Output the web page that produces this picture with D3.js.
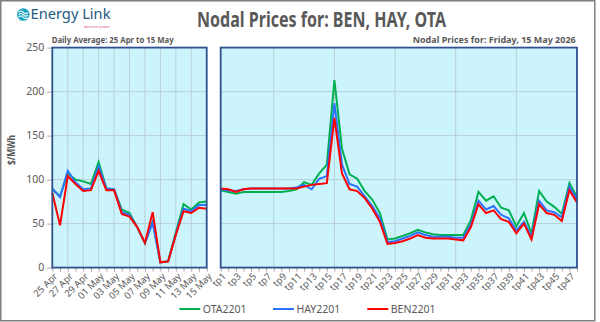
<!DOCTYPE html>
<html>
<head>
<meta charset="utf-8">
<script src="https://cdn.jsdelivr.net/npm/d3@7"></script>
<style>
  html, body { margin: 0; padding: 0; background: #fff; }
  svg { display: block; font-family: "Noto Sans", Roboto, sans-serif; }
</style>
</head>
<body>
<svg id="chart" width="600" height="322"></svg>
<script>
// daily averages, 25 Apr .. 15 May
const days = ['25 Apr', '26 Apr', '27 Apr', '28 Apr', '29 Apr', '30 Apr', '01 May',
  '02 May', '03 May', '04 May', '05 May', '06 May', '07 May', '08 May', '09 May',
  '10 May', '11 May', '12 May', '13 May', '14 May', '15 May']
const dailyOTA = [89, 81, 107, 100, 98, 95, 120, 90, 89, 66, 62, 46, 28, 52, 6, 7, 40, 72, 66, 74, 75]
const dailyHAY = [90, 80, 110, 97, 89, 90, 115, 90, 89, 63, 60, 46, 28, 51, 6, 7, 38, 67, 64, 71, 71]
const dailyBEN = [85, 48, 104, 95, 87, 88, 110, 88, 88, 61, 58, 46, 28, 63, 6, 7, 37, 64, 62, 68, 67]

// trading periods for 15 May
const periods = d3.range(1, 49).map(i => 'tp' + i)
const tpOTA = [88, 86, 84, 86, 86, 86, 86, 86, 86, 87, 89, 97, 94, 107, 117, 213, 135, 106, 101, 87,
  77, 62, 32, 33, 36, 39, 43, 40, 38, 37, 37, 37, 37, 54, 86, 76, 81, 68, 65, 47, 62, 39, 87, 75, 69, 61, 96, 80]
const tpHAY = [89, 88, 87, 89, 90, 90, 90, 90, 90, 90, 91, 94, 89, 101, 104, 187, 117, 95, 92, 81,
  70, 56, 29, 30, 33, 36, 40, 37, 35, 35, 35, 34, 34, 49, 76, 66, 70, 60, 56, 42, 52, 35, 76, 65, 63, 57, 92, 77]
const tpBEN = [90, 89, 86, 89, 90, 90, 90, 90, 90, 90, 90, 92, 94, 95, 96, 170, 107, 89, 87, 79,
  67, 52, 27, 28, 30, 33, 37, 34, 33, 33, 33, 32, 31, 46, 72, 62, 65, 55, 52, 39, 50, 32, 72, 62, 60, 53, 88, 74]

const seriesNames = ['OTA2201', 'HAY2201', 'BEN2201']
const seriesColors = ['#00b050', '#2a72ff', '#ff0000']
const yTicks = [0, 50, 100, 150, 200, 250]

const svg = d3.select('#chart')
const grey = '#595959'

// outer frame
svg.append('rect')
  .attr('x', 0.75).attr('y', 0.75).attr('width', 594).attr('height', 320)
  .attr('fill', '#fff').attr('stroke', '#7f7f7f').attr('stroke-width', 1.5)

// logo
const logo = svg.append('g')
logo.append('circle').attr('cx', 23.3).attr('cy', 14.5).attr('r', 6.3).attr('fill', '#1aa3c0')
;[-2.2, 0.3, 2.8].forEach(dy => {
  logo.append('path')
    .attr('d', `M18.6,${14.5 + dy} q2.3,-2.6 4.7,0 t4.7,0`)
    .attr('fill', 'none').attr('stroke', '#fff').attr('stroke-width', 1.1)
})
logo.append('text').attr('x', 30.5).attr('y', 19.3)
  .attr('font-size', 13.5).attr('fill', '#1d5a7e')
  .attr('textLength', 80).attr('lengthAdjust', 'spacingAndGlyphs')
  .text('Energy Link')
logo.append('text').attr('x', 84).attr('y', 27.6)
  .attr('font-size', 4).attr('fill', '#e0457b')
  .attr('textLength', 26).attr('lengthAdjust', 'spacingAndGlyphs')
  .text('decision power')

// titles
svg.append('text').attr('x', 197).attr('y', 26.8)
  .attr('font-size', 21).attr('font-weight', 'bold').attr('fill', grey)
  .attr('textLength', 249).attr('lengthAdjust', 'spacingAndGlyphs')
  .text('Nodal Prices for: BEN, HAY, OTA')
svg.append('text').attr('x', 51.7).attr('y', 43)
  .attr('font-size', 9).attr('font-weight', 'bold').attr('fill', grey)
  .attr('textLength', 122).attr('lengthAdjust', 'spacingAndGlyphs')
  .text('Daily Average: 25 Apr to 15 May')
svg.append('text').attr('x', 412.7).attr('y', 42.7)
  .attr('font-size', 9).attr('font-weight', 'bold').attr('fill', grey)
  .attr('textLength', 163).attr('lengthAdjust', 'spacingAndGlyphs')
  .text('Nodal Prices for: Friday, 15 May 2026')

const y = d3.scaleLinear().domain([0, 250]).range([267.6, 47.6])

function panel (cats, data, x0, x1, every, gridEvery, showY) {
  const x = d3.scalePoint().domain(cats).range([x0, x1])
  const g = svg.append('g')

  g.append('rect')
    .attr('x', x0).attr('y', y(250)).attr('width', x1 - x0).attr('height', y(0) - y(250))
    .attr('fill', '#ccf4fd')

  // horizontal grid
  g.append('g').selectAll('line')
    .data(yTicks.slice(1, -1))
    .join('line')
    .attr('x1', x0).attr('x2', x1)
    .attr('y1', d => y(d)).attr('y2', d => y(d))
    .attr('stroke', '#b9cfd6').attr('stroke-width', 1)

  // vertical grid
  g.append('g').selectAll('line')
    .data(cats.filter((d, i) => i > 0 && (i + gridEvery.offset) % gridEvery.step === 0))
    .join('line')
    .attr('x1', d => x(d)).attr('x2', d => x(d))
    .attr('y1', y(250)).attr('y2', y(0))
    .attr('stroke', '#b9cfd6').attr('stroke-width', 1)

  // x axis ticks and labels
  const xAxis = d3.axisBottom(x).tickSize(4).tickPadding(0)
    .tickFormat((d, i) => i % every === 0 ? d : '')
  const ax = g.append('g').attr('transform', `translate(0,${y(0)})`).call(xAxis)
  ax.select('.domain').remove()
  ax.selectAll('.tick line').attr('stroke', '#a6a6a6')
  ax.selectAll('.tick text')
    .attr('font-family', '"Noto Sans", Roboto, sans-serif')
    .attr('font-size', 9.5).attr('fill', grey)
    .attr('text-anchor', 'end')
    .attr('transform', 'translate(3,7) rotate(-45)')
    .attr('dy', '0.35em').attr('y', 0)

  if (showY) {
    const yAxis = d3.axisLeft(y).tickValues(yTicks).tickSize(5).tickPadding(3)
    const ay = g.append('g').attr('transform', `translate(${x0},0)`).call(yAxis)
    ay.select('.domain').remove()
    ay.selectAll('.tick line').attr('stroke', '#a6a6a6')
    ay.selectAll('.tick text')
      .attr('font-family', '"Noto Sans", Roboto, sans-serif')
      .attr('font-size', 10.5).attr('fill', grey)
  }

  const line = d3.line().x((d, i) => x(cats[i])).y(d => y(d))
  g.append('g').selectAll('path')
    .data(data)
    .join('path')
    .attr('d', d => line(d))
    .attr('fill', 'none')
    .attr('stroke', (d, i) => seriesColors[i])
    .attr('stroke-width', 2)
    .attr('stroke-linejoin', 'miter')

  g.append('rect')
    .attr('x', x0).attr('y', y(250)).attr('width', x1 - x0).attr('height', y(0) - y(250))
    .attr('fill', 'none').attr('stroke', '#2f528f').attr('stroke-width', 1.8)
}

panel(days, [dailyOTA, dailyHAY, dailyBEN], 52.3, 206.7, 2, { step: 2, offset: 0 }, true)
panel(periods, [tpOTA, tpHAY, tpBEN], 220.7, 577, 2, { step: 8, offset: 1 }, false)

// y axis title
svg.append('text')
  .attr('transform', 'translate(14.5,150) rotate(-90)')
  .attr('text-anchor', 'middle')
  .attr('font-size', 10).attr('font-weight', 'bold').attr('fill', grey)
  .attr('textLength', 30).attr('lengthAdjust', 'spacingAndGlyphs')
  .text('$/MWh')

// legend
const legendX = [179.3, 273, 367.3]
const lg = svg.append('g').selectAll('g')
  .data(seriesNames)
  .join('g')
  .attr('transform', (d, i) => `translate(${legendX[i]},309)`)
lg.append('line').attr('x1', 0).attr('x2', 21)
  .attr('stroke', (d, i) => seriesColors[i]).attr('stroke-width', 2)
lg.append('text').attr('x', 23.5).attr('dy', '0.35em')
  .attr('font-size', 10.5).attr('fill', grey)
  .text(d => d)
</script>
</body>
</html>
